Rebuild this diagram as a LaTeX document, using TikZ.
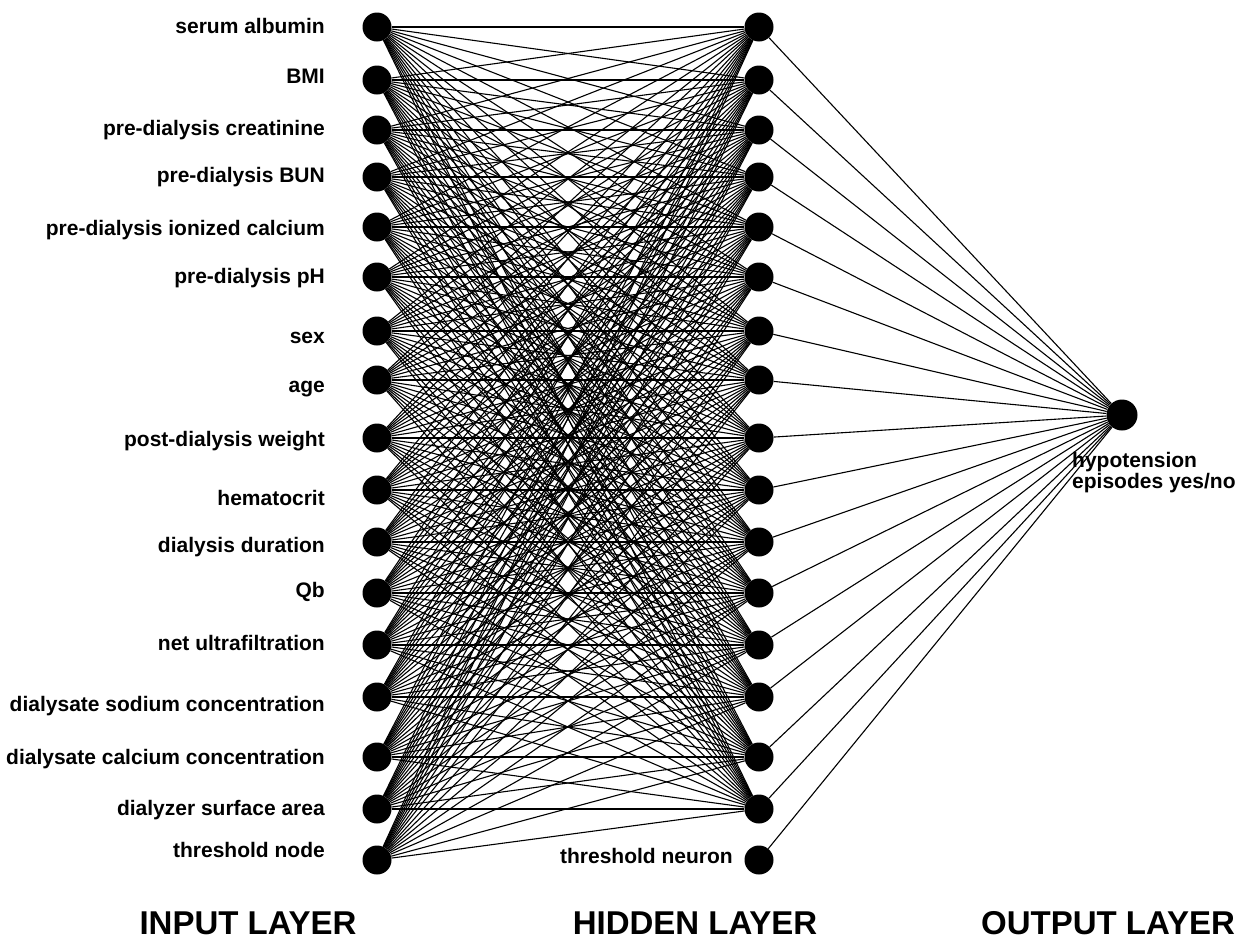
\documentclass[tikz,border=0pt]{standalone}
\usepackage{fontspec}
\setmainfont{Liberation Sans}
\begin{document}
\begin{tikzpicture}[x=1pt,y=-1pt,
  neuron/.style={circle,fill=black,draw=none,inner sep=0pt,minimum size=29pt},
  lab/.style={anchor=mid east,inner sep=0pt,font=\bfseries\fontsize{21}{24}\selectfont},
  title/.style={anchor=base,inner sep=0pt,font=\bfseries\fontsize{33}{36}\selectfont},
  conn/.style={line width=1.1pt,black}]
\useasboundingbox (0,0) rectangle (1242,940);

% input and hidden neurons
\foreach \y [count=\i] in {27,80,130,177,227,277,331,380,438,490,542,593,645,697,757,809,860}{
  \node[neuron] (i\i) at (377,\y) {};
  \node[neuron] (h\i) at (759,\y) {};
}
\node[neuron,minimum size=31pt] (o) at (1122,415) {};

% input labels
\foreach \y/\t [count=\i] in {31/serum albumin,81/BMI,133/pre-dialysis creatinine,180/pre-dialysis BUN,233/pre-dialysis ionized calcium,281/pre-dialysis pH,341/sex,390/age,444/post-dialysis weight,503/hematocrit,550/dialysis duration,595/Qb,648/net ultrafiltration,709/dialysate sodium concentration,762/dialysate calcium concentration,813/dialyzer surface area,855/threshold node}{
  \node[lab] (l\i) at (325,\y) {\t};
}
\node[lab] (ht) at (733,861) {threshold neuron};
\node[anchor=north west,align=left,inner sep=0pt,font=\bfseries\fontsize{21}{21}\selectfont] (ol) at (1072,452) {hypotension\\episodes yes/no};

% connections input -> hidden
\foreach \i in {1,...,17}{
  \foreach \j in {1,...,16}{
    \draw[conn] (i\i) -- (h\j);
  }
}
% connections hidden -> output
\foreach \j in {1,...,17}{
  \draw[conn] (h\j) -- (o);
}

% layer titles
\node[title] (tin) at (248,934) {INPUT LAYER};
\node[title] (thid) at (695,934) {HIDDEN LAYER};
\node[title] (tout) at (1108,934) {OUTPUT LAYER};
\end{tikzpicture}
\end{document}
